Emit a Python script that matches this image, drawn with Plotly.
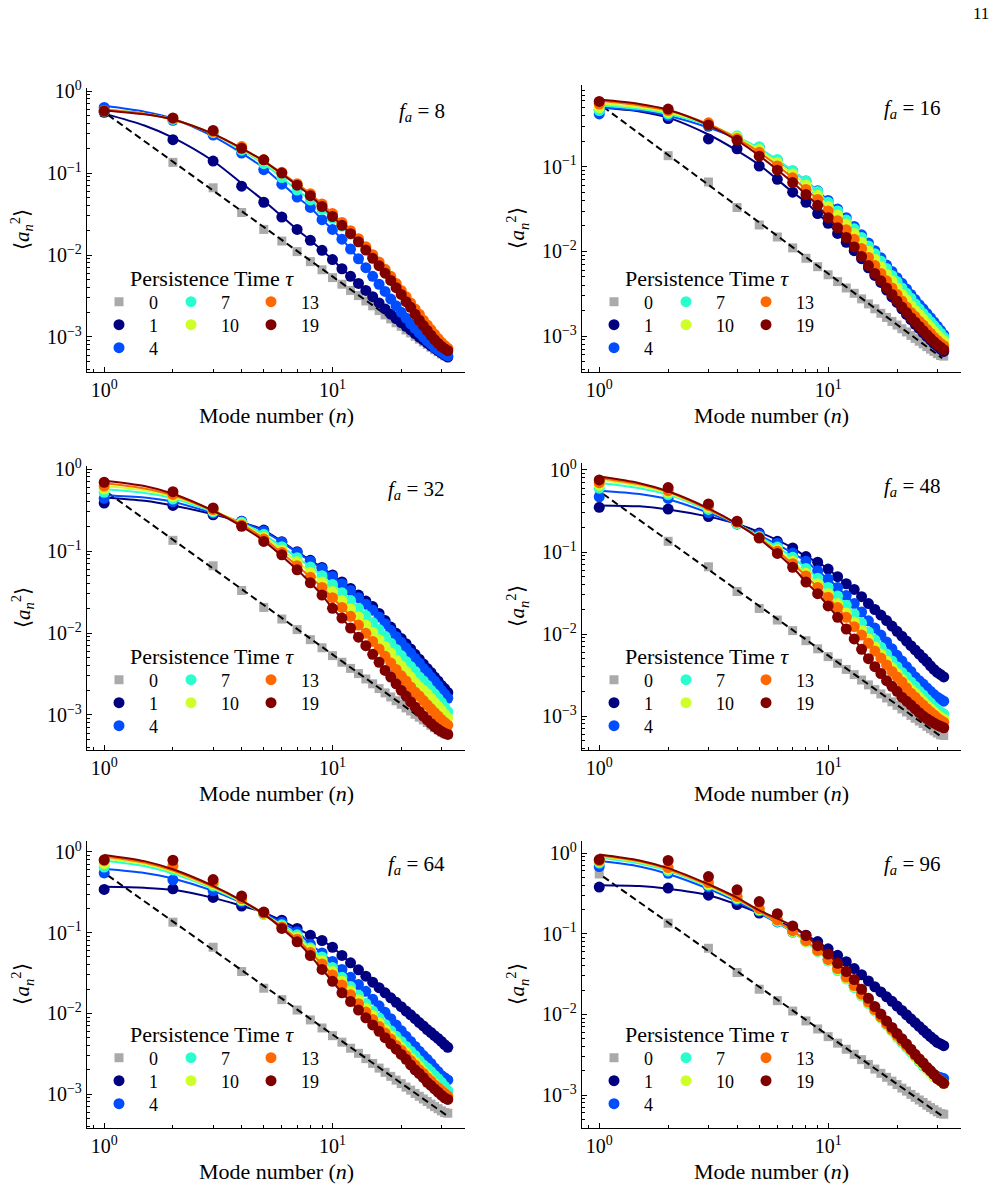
import plotly.graph_objects as go

# ---------------- data ----------------
N = [1, 2, 3, 4, 5, 6, 7, 8, 9, 10, 11, 12, 13, 14, 15, 16,
     17, 18, 19, 20, 21, 22, 23, 24, 25, 26, 27, 28, 29, 30, 31, 32]

TAUS = [0, 1, 4, 7, 10, 13, 19]
FA_VALUES = [8, 16, 32, 48, 64, 96]

# tau = 0 (passive) spectrum, shared by all panels
TAU0 = [0.55, 0.135, 0.066, 0.033, 0.0205, 0.0148, 0.011, 0.0083, 0.0066, 0.0053, 0.0044, 0.0037,
        0.0032, 0.00275, 0.0024, 0.0021, 0.00186, 0.00166, 0.00149, 0.00135, 0.00122, 0.00112,
        0.00102, 0.00094, 0.00087, 0.00081, 0.00075, 0.0007, 0.00066, 0.00062, 0.00059, 0.00058]

# reference n^-2 line (endpoints)
DASH_N = [1.04, 31.5]
DASH_V = [0.51, 0.00055]

# f_a = 8
F8_T1 = [0.55, 0.255, 0.14, 0.069, 0.044, 0.029, 0.0205, 0.0151, 0.0114, 0.0088, 0.0068, 0.0055, 0.0045, 0.0037, 0.0031, 0.0026,
         0.0022, 0.0019, 0.00168, 0.0015, 0.00135, 0.00122, 0.0011, 0.001, 0.00092, 0.00085, 0.00078, 0.00073, 0.00068, 0.00064, 0.0006, 0.00057]
F8_T4 = [0.63, 0.44, 0.29, 0.175, 0.11, 0.073, 0.051, 0.038, 0.027, 0.0205, 0.0156, 0.0118, 0.009, 0.007, 0.0055, 0.0044,
         0.0036, 0.0029, 0.0024, 0.002, 0.0017, 0.00145, 0.00127, 0.00112, 0.001, 0.0009, 0.00082, 0.00075, 0.0007, 0.00066, 0.00062, 0.00059]
F8_T7 = [0.57, 0.45, 0.31, 0.19, 0.13, 0.088, 0.062, 0.047, 0.036, 0.028, 0.0225, 0.018, 0.0145, 0.0117, 0.0094, 0.0077,
         0.0063, 0.0052, 0.0043, 0.0035, 0.0029, 0.0025, 0.0021, 0.0018, 0.00154, 0.00133, 0.00117, 0.00104, 0.00093, 0.00084, 0.00077, 0.00071]
F8_T10 = [0.57, 0.46, 0.32, 0.205, 0.143, 0.1, 0.072, 0.054, 0.041, 0.031, 0.0245, 0.0193, 0.0154, 0.0123, 0.0098, 0.008,
          0.0065, 0.0053, 0.0044, 0.0036, 0.003, 0.0025, 0.0021, 0.0018, 0.00155, 0.00135, 0.00119, 0.00105, 0.00094, 0.00085, 0.00078, 0.00072]
F8_T13 = [0.58, 0.46, 0.32, 0.21, 0.145, 0.102, 0.074, 0.056, 0.042, 0.032, 0.025, 0.0198, 0.0158, 0.0126, 0.0101, 0.0082,
          0.0067, 0.0055, 0.0045, 0.0037, 0.0031, 0.0026, 0.0022, 0.0019, 0.0016, 0.0014, 0.00123, 0.00108, 0.00096, 0.00086, 0.00079, 0.00073]
F8_T19 = [0.57, 0.47, 0.33, 0.2, 0.145, 0.1, 0.071, 0.053, 0.039, 0.0295, 0.023, 0.0182, 0.0145, 0.0115, 0.0091, 0.0074,
          0.006, 0.0049, 0.004, 0.0033, 0.0027, 0.0023, 0.0019, 0.0016, 0.00138, 0.0012, 0.00105, 0.00093, 0.00084, 0.00077, 0.00072, 0.00068]

# f_a = 16
F16_T1 = [0.47, 0.37, 0.213, 0.163, 0.102, 0.071, 0.05, 0.038, 0.028, 0.0215, 0.0163, 0.0128, 0.0102, 0.0082, 0.0064, 0.0052,
          0.0043, 0.0035, 0.0029, 0.0025, 0.0021, 0.0018, 0.00157, 0.00138, 0.00123, 0.0011, 0.00099, 0.0009, 0.00082, 0.00076, 0.0007, 0.00066]
F16_T4 = [0.42, 0.4, 0.3, 0.225, 0.17, 0.119, 0.089, 0.068, 0.052, 0.04, 0.0316, 0.025, 0.0197, 0.0157, 0.0126, 0.0102,
          0.0084, 0.0069, 0.0058, 0.0049, 0.0042, 0.0036, 0.0031, 0.0027, 0.00235, 0.0021, 0.00185, 0.00165, 0.00147, 0.00131, 0.00117, 0.00104]
F16_T7 = [0.46, 0.42, 0.31, 0.232, 0.172, 0.122, 0.09, 0.068, 0.051, 0.038, 0.03, 0.0235, 0.0185, 0.0146, 0.0116, 0.0094,
          0.0077, 0.0063, 0.0052, 0.0044, 0.0037, 0.0032, 0.0028, 0.0024, 0.0021, 0.00185, 0.00165, 0.00148, 0.00133, 0.0012, 0.00108, 0.00097]
F16_T10 = [0.5, 0.44, 0.32, 0.225, 0.16, 0.112, 0.082, 0.061, 0.046, 0.034, 0.027, 0.021, 0.0163, 0.0128, 0.0101, 0.0081,
           0.0066, 0.0054, 0.0045, 0.0037, 0.0031, 0.0027, 0.0023, 0.002, 0.0018, 0.0016, 0.00142, 0.00127, 0.00114, 0.00103, 0.00094, 0.00088]
F16_T13 = [0.55, 0.46, 0.33, 0.215, 0.148, 0.102, 0.074, 0.054, 0.041, 0.03, 0.023, 0.018, 0.0139, 0.0108, 0.0085, 0.0068,
           0.0055, 0.0045, 0.0037, 0.0031, 0.0026, 0.0022, 0.0019, 0.0017, 0.0015, 0.00135, 0.0012, 0.00108, 0.00097, 0.00089, 0.00082, 0.00077]
F16_T19 = [0.59, 0.48, 0.31, 0.205, 0.133, 0.091, 0.065, 0.047, 0.035, 0.025, 0.019, 0.0146, 0.0113, 0.0087, 0.0068, 0.0055,
           0.0045, 0.0037, 0.0031, 0.0026, 0.0022, 0.0019, 0.00165, 0.00146, 0.0013, 0.00116, 0.00104, 0.00094, 0.00086, 0.00079, 0.00074, 0.00069]

# f_a = 32
F32_T1 = [0.385, 0.36, 0.277, 0.23, 0.18, 0.13, 0.098, 0.077, 0.063, 0.051, 0.042, 0.035, 0.029, 0.0245, 0.021, 0.0173,
          0.0142, 0.0118, 0.0099, 0.0086, 0.0074, 0.0064, 0.0055, 0.0048, 0.0042, 0.0037, 0.0033, 0.0029, 0.0026, 0.0023, 0.0021, 0.00188]
F32_T4 = [0.44, 0.4, 0.29, 0.23, 0.175, 0.128, 0.096, 0.075, 0.061, 0.049, 0.04, 0.033, 0.027, 0.0225, 0.019, 0.0157,
          0.013, 0.0108, 0.009, 0.0077, 0.0066, 0.0057, 0.0049, 0.0043, 0.0037, 0.0033, 0.0029, 0.0026, 0.0023, 0.002, 0.0018, 0.0016]
F32_T7 = [0.52, 0.43, 0.3, 0.225, 0.16, 0.113, 0.083, 0.064, 0.05, 0.039, 0.031, 0.025, 0.02, 0.0163, 0.0134, 0.011,
          0.0091, 0.0075, 0.0063, 0.0053, 0.0045, 0.0039, 0.0034, 0.0029, 0.0026, 0.0023, 0.002, 0.0018, 0.0016, 0.00142, 0.00125, 0.0011]
F32_T10 = [0.57, 0.46, 0.31, 0.215, 0.148, 0.103, 0.074, 0.055, 0.042, 0.032, 0.025, 0.0198, 0.0157, 0.0126, 0.0102, 0.0083,
           0.0068, 0.0057, 0.0047, 0.004, 0.0034, 0.0029, 0.0025, 0.0022, 0.002, 0.0018, 0.0016, 0.00142, 0.00127, 0.00114, 0.00102, 0.00092]
F32_T13 = [0.62, 0.49, 0.32, 0.207, 0.14, 0.096, 0.066, 0.048, 0.036, 0.027, 0.0205, 0.016, 0.0125, 0.0099, 0.0079, 0.0064,
           0.0052, 0.0043, 0.0036, 0.003, 0.0026, 0.0022, 0.0019, 0.0017, 0.0015, 0.00133, 0.00119, 0.00107, 0.00097, 0.00088, 0.00081, 0.00075]
F32_T19 = [0.69, 0.53, 0.335, 0.2, 0.131, 0.09, 0.059, 0.041, 0.029, 0.02, 0.0152, 0.0115, 0.0089, 0.007, 0.0055, 0.0044,
           0.0035, 0.0029, 0.0024, 0.002, 0.0017, 0.00145, 0.00125, 0.0011, 0.00097, 0.00087, 0.00079, 0.00072, 0.00067, 0.00063, 0.0006, 0.00058]

# f_a = 48
F48_T1 = [0.35, 0.334, 0.27, 0.22, 0.17, 0.135, 0.112, 0.088, 0.075, 0.062, 0.05, 0.041, 0.035, 0.0285, 0.0235, 0.0199,
          0.017, 0.0146, 0.0125, 0.0108, 0.0094, 0.0082, 0.0072, 0.0064, 0.0057, 0.0051, 0.0046, 0.0041, 0.0037, 0.0034, 0.0032, 0.003]
F48_T4 = [0.47, 0.45, 0.3, 0.22, 0.165, 0.128, 0.097, 0.077, 0.059, 0.047, 0.037, 0.0294, 0.0235, 0.0185, 0.0145, 0.0118,
          0.0097, 0.008, 0.0066, 0.0055, 0.0047, 0.004, 0.0035, 0.003, 0.0027, 0.00245, 0.0022, 0.002, 0.00183, 0.0017, 0.0016, 0.00152]
F48_T7 = [0.6, 0.5, 0.33, 0.22, 0.155, 0.115, 0.086, 0.063, 0.048, 0.037, 0.029, 0.0225, 0.0175, 0.0136, 0.0106, 0.0085,
          0.0069, 0.0057, 0.0047, 0.004, 0.0034, 0.003, 0.0026, 0.0023, 0.002, 0.0018, 0.0016, 0.00145, 0.0013, 0.0012, 0.00112, 0.00106]
F48_T10 = [0.65, 0.53, 0.35, 0.225, 0.15, 0.107, 0.077, 0.055, 0.041, 0.031, 0.0235, 0.018, 0.014, 0.011, 0.0087, 0.007,
           0.0057, 0.0047, 0.0039, 0.0033, 0.0028, 0.0024, 0.0021, 0.0019, 0.0017, 0.0015, 0.00135, 0.00123, 0.00113, 0.00104, 0.00097, 0.00092]
F48_T13 = [0.7, 0.56, 0.37, 0.23, 0.15, 0.102, 0.072, 0.051, 0.037, 0.028, 0.021, 0.016, 0.0123, 0.0097, 0.0077, 0.0062,
           0.0051, 0.0042, 0.0035, 0.003, 0.0026, 0.0022, 0.0019, 0.0017, 0.0015, 0.00136, 0.00123, 0.00112, 0.00103, 0.00095, 0.00089, 0.00084]
F48_T19 = [0.755, 0.61, 0.385, 0.237, 0.148, 0.096, 0.065, 0.043, 0.031, 0.022, 0.016, 0.0115, 0.0087, 0.0065, 0.005, 0.004,
           0.0033, 0.0027, 0.0023, 0.002, 0.0017, 0.00152, 0.00136, 0.00122, 0.0011, 0.001, 0.00093, 0.00087, 0.00082, 0.00078, 0.00075, 0.00072]

# f_a = 64
F64_T1 = [0.343, 0.35, 0.273, 0.214, 0.178, 0.143, 0.113, 0.093, 0.08, 0.066, 0.0523, 0.0423, 0.0347, 0.0289, 0.0244, 0.0208,
          0.018, 0.0156, 0.0137, 0.0121, 0.0107, 0.0096, 0.0086, 0.0077, 0.007, 0.0063, 0.0058, 0.0053, 0.0049, 0.0045, 0.0041, 0.0038]
F64_T4 = [0.55, 0.45, 0.33, 0.24, 0.17, 0.135, 0.103, 0.072, 0.056, 0.044, 0.035, 0.028, 0.0228, 0.0188, 0.015, 0.0124,
          0.0103, 0.0086, 0.0072, 0.0061, 0.0052, 0.0045, 0.0039, 0.0034, 0.003, 0.0027, 0.0024, 0.0021, 0.0019, 0.0017, 0.0016, 0.0015]
F64_T7 = [0.65, 0.6, 0.38, 0.25, 0.17, 0.125, 0.094, 0.065, 0.05, 0.037, 0.028, 0.0215, 0.0168, 0.0133, 0.0107, 0.0088,
          0.0073, 0.0061, 0.0052, 0.0045, 0.0039, 0.0034, 0.003, 0.0026, 0.0023, 0.0021, 0.0019, 0.0017, 0.00155, 0.0014, 0.00125, 0.0011]
F64_T10 = [0.72, 0.65, 0.4, 0.255, 0.17, 0.12, 0.088, 0.062, 0.045, 0.033, 0.025, 0.019, 0.0148, 0.0117, 0.0094, 0.0077,
           0.0063, 0.0053, 0.0045, 0.0038, 0.0033, 0.0028, 0.0025, 0.0022, 0.0019, 0.0017, 0.0015, 0.00135, 0.0012, 0.0011, 0.001, 0.00092]
F64_T13 = [0.78, 0.68, 0.42, 0.265, 0.175, 0.118, 0.083, 0.057, 0.041, 0.03, 0.0225, 0.017, 0.0132, 0.0104, 0.0084, 0.0069,
           0.0057, 0.0048, 0.004, 0.0035, 0.003, 0.0026, 0.0023, 0.002, 0.0018, 0.0016, 0.00145, 0.0013, 0.0012, 0.0011, 0.00102, 0.00095]
F64_T19 = [0.8, 0.79, 0.455, 0.284, 0.18, 0.113, 0.077, 0.052, 0.035, 0.025, 0.018, 0.014, 0.011, 0.0088, 0.0072, 0.006,
           0.005, 0.0042, 0.0036, 0.0031, 0.0027, 0.0023, 0.002, 0.0018, 0.0016, 0.0014, 0.00128, 0.00116, 0.00106, 0.00097, 0.0009, 0.00086]

# f_a = 96
F96_T1 = [0.378, 0.368, 0.3, 0.23, 0.18, 0.145, 0.118, 0.096, 0.08, 0.065, 0.054, 0.045, 0.037, 0.031, 0.026, 0.022,
          0.019, 0.0165, 0.0145, 0.0127, 0.0112, 0.0099, 0.0088, 0.0079, 0.0071, 0.0064, 0.0058, 0.0053, 0.0049, 0.0045, 0.0043, 0.0041]
F96_T4 = [0.68, 0.56, 0.38, 0.26, 0.19, 0.14, 0.105, 0.08, 0.062, 0.048, 0.037, 0.029, 0.023, 0.0182, 0.0145, 0.0117,
          0.0095, 0.0078, 0.0065, 0.0055, 0.0047, 0.004, 0.0035, 0.0031, 0.0027, 0.0024, 0.0022, 0.002, 0.0018, 0.0017, 0.00165, 0.0016]
F96_T7 = [0.75, 0.6, 0.4, 0.27, 0.195, 0.142, 0.105, 0.079, 0.06, 0.046, 0.035, 0.0275, 0.0215, 0.017, 0.0136, 0.011,
          0.009, 0.0074, 0.0062, 0.0052, 0.0045, 0.0039, 0.0034, 0.003, 0.0026, 0.0023, 0.0021, 0.0019, 0.0017, 0.0016, 0.0015, 0.0014]
F96_T10 = [0.78, 0.63, 0.41, 0.28, 0.2, 0.145, 0.107, 0.08, 0.061, 0.047, 0.036, 0.028, 0.022, 0.0173, 0.0138, 0.0112,
           0.0091, 0.0075, 0.0063, 0.0053, 0.0046, 0.004, 0.0035, 0.003, 0.0027, 0.0024, 0.0021, 0.0019, 0.0017, 0.0016, 0.0015, 0.0014]
F96_T13 = [0.8, 0.66, 0.43, 0.29, 0.205, 0.148, 0.109, 0.082, 0.062, 0.048, 0.037, 0.029, 0.0228, 0.0178, 0.0142, 0.0115,
           0.0093, 0.0077, 0.0065, 0.0055, 0.0047, 0.0041, 0.0036, 0.0031, 0.0028, 0.0025, 0.0022, 0.002, 0.0018, 0.0016, 0.0015, 0.0014]
F96_T19 = [0.83, 0.81, 0.51, 0.35, 0.25, 0.177, 0.125, 0.095, 0.071, 0.056, 0.043, 0.034, 0.027, 0.0205, 0.0158, 0.0125,
           0.0101, 0.0083, 0.0069, 0.0058, 0.005, 0.0043, 0.0037, 0.0032, 0.0028, 0.0025, 0.0022, 0.002, 0.0018, 0.0016, 0.0015, 0.0014]

# fitted curves at small n, n = FIT_N; beyond that the
# solid lines follow the measured points
FIT_N = [1, 1.5, 2, 3, 4, 5]
FIT8 = [[0.53, 0.38, 0.27, 0.14, 0.075, 0.046],
        [0.66, 0.56, 0.46, 0.28, 0.175, 0.115],
        [0.60, 0.53, 0.45, 0.30, 0.19, 0.13],
        [0.59, 0.53, 0.45, 0.30, 0.195, 0.135],
        [0.59, 0.53, 0.45, 0.30, 0.20, 0.14],
        [0.58, 0.52, 0.45, 0.30, 0.20, 0.14]]
FIT16 = [[0.50, 0.45, 0.38, 0.24, 0.155, 0.105],
         [0.50, 0.46, 0.40, 0.29, 0.215, 0.16],
         [0.53, 0.48, 0.42, 0.31, 0.225, 0.165],
         [0.56, 0.50, 0.44, 0.315, 0.22, 0.158],
         [0.60, 0.53, 0.46, 0.32, 0.215, 0.148],
         [0.62, 0.55, 0.47, 0.31, 0.205, 0.135]]
FIT32 = [[0.45, 0.41, 0.36, 0.28, 0.225, 0.18],
         [0.48, 0.45, 0.40, 0.29, 0.225, 0.175],
         [0.57, 0.51, 0.44, 0.30, 0.22, 0.16],
         [0.62, 0.55, 0.46, 0.31, 0.215, 0.15],
         [0.67, 0.58, 0.48, 0.31, 0.21, 0.142],
         [0.72, 0.62, 0.50, 0.31, 0.20, 0.133]]
FIT48 = [[0.37, 0.36, 0.33, 0.27, 0.22, 0.175],
         [0.56, 0.51, 0.44, 0.30, 0.215, 0.16],
         [0.70, 0.60, 0.50, 0.32, 0.22, 0.155],
         [0.76, 0.64, 0.52, 0.33, 0.22, 0.15],
         [0.80, 0.67, 0.54, 0.33, 0.22, 0.148],
         [0.83, 0.69, 0.55, 0.34, 0.22, 0.145]]
FIT64 = [[0.37, 0.36, 0.34, 0.27, 0.215, 0.178],
         [0.62, 0.55, 0.47, 0.33, 0.235, 0.175],
         [0.78, 0.67, 0.54, 0.35, 0.24, 0.17],
         [0.83, 0.71, 0.57, 0.36, 0.245, 0.17],
         [0.88, 0.74, 0.59, 0.37, 0.25, 0.17],
         [0.92, 0.77, 0.61, 0.38, 0.25, 0.17]]
FIT96 = [[0.40, 0.39, 0.36, 0.30, 0.23, 0.18],
         [0.80, 0.68, 0.55, 0.36, 0.25, 0.18],
         [0.88, 0.74, 0.60, 0.38, 0.26, 0.185],
         [0.91, 0.77, 0.62, 0.39, 0.265, 0.19],
         [0.94, 0.79, 0.63, 0.40, 0.27, 0.19],
         [0.96, 0.81, 0.65, 0.41, 0.28, 0.195]]

SERIES = [
    [F8_T1, F8_T4, F8_T7, F8_T10, F8_T13, F8_T19],
    [F16_T1, F16_T4, F16_T7, F16_T10, F16_T13, F16_T19],
    [F32_T1, F32_T4, F32_T7, F32_T10, F32_T13, F32_T19],
    [F48_T1, F48_T4, F48_T7, F48_T10, F48_T13, F48_T19],
    [F64_T1, F64_T4, F64_T7, F64_T10, F64_T13, F64_T19],
    [F96_T1, F96_T4, F96_T7, F96_T10, F96_T13, F96_T19],
]
FITS = [FIT8, FIT16, FIT32, FIT48, FIT64, FIT96]

X_TICKS = [1, 10]
X_TICKTEXT = ["10<sup>0</sup>", "10<sup>1</sup>"]
Y_TICKS = [1, 0.1, 0.01, 0.001]
Y_TICKTEXT = ["10<sup>0</sup>", "10<sup>−1</sup>", "10<sup>−2</sup>", "10<sup>−3</sup>"]

# ---------------- style / layout ----------------
W, H = 997, 1190
FONT = "Liberation Serif"
COLORS = {0: "#aaaaaa", 1: "#000080", 4: "#004dff", 7: "#29ffce",
          10: "#ceff29", 13: "#ff6800", 19: "#800000"}

P_LEFT = [87, 582, 87, 582, 87, 582]
P_RIGHT = [465, 961, 465, 961, 465, 961]
P_TOP = [88, 85, 466, 463, 841, 841]
P_BOTTOM = [372, 372, 750, 750, 1128, 1128]
Y_RANGE = [[-3.427, 0.037], [-3.424, -0.035], [-3.427, 0.037],
           [-3.414, 0.085], [-3.42, 0.136], [-3.408, 0.149]]
X_RANGE = [-0.0753, 1.5805]

# legend grid (offsets from panel left / bottom, px)
LEG_COL_DX = [32, 104, 184]
LEG_ROW_DY = [70, 47, 24]
LEG_POS = {0: (0, 0), 1: (0, 1), 4: (0, 2), 7: (1, 0), 10: (1, 1), 13: (2, 0), 19: (2, 1)}

X_MINOR = [0.9, 2, 3, 4, 5, 6, 7, 8, 9, 20, 30]
Y_MINOR = [k * 10.0 ** e for e in range(-4, 1) for k in range(2, 10)]


def fx(px):
    return px / W


def fy(py):
    return 1 - py / H


fig = go.Figure()
layout = dict(width=W, height=H, margin=dict(l=0, r=0, t=0, b=0),
              paper_bgcolor="white", plot_bgcolor="white", template="none",
              showlegend=True, font=dict(family=FONT, color="black"))
annotations = []
leg_count = 0

for i in range(6):
    k = i + 1
    xs = "x" if k == 1 else f"x{k}"
    ys = "y" if k == 1 else f"y{k}"
    xa = "xaxis" if k == 1 else f"xaxis{k}"
    ya = "yaxis" if k == 1 else f"yaxis{k}"
    L, R, T, B = P_LEFT[i], P_RIGHT[i], P_TOP[i], P_BOTTOM[i]

    layout[xa] = dict(type="log", range=X_RANGE, domain=[fx(L), fx(R)], anchor=ys,
                      showline=True, linecolor="black", linewidth=1.4, mirror=False,
                      ticks="inside", ticklen=5, tickwidth=1, tickcolor="black",
                      tickmode="array", tickvals=X_TICKS, ticktext=X_TICKTEXT,
                      tickfont=dict(family=FONT, size=20, color="black"),
                      minor=dict(ticks="inside", ticklen=3, tickwidth=0.8, tickcolor="black",
                                 tickmode="array", tickvals=X_MINOR, showgrid=False),
                      showgrid=False, zeroline=False)
    layout[ya] = dict(type="log", range=Y_RANGE[i], domain=[fy(B), fy(T)], anchor=xs,
                      showline=True, linecolor="black", linewidth=1.4, mirror=False,
                      ticks="inside", ticklen=5, tickwidth=1, tickcolor="black",
                      tickmode="array", tickvals=Y_TICKS, ticktext=Y_TICKTEXT,
                      tickfont=dict(family=FONT, size=20, color="black"),
                      minor=dict(ticks="inside", ticklen=3, tickwidth=0.8, tickcolor="black",
                                 tickmode="array", tickvals=Y_MINOR, showgrid=False),
                      showgrid=False, zeroline=False)

    def new_legend(tau):
        global leg_count
        leg_count += 1
        name = "legend" if leg_count == 1 else f"legend{leg_count}"
        c, r = LEG_POS[tau]
        layout[name] = dict(x=fx(L + LEG_COL_DX[c] - 30), y=fy(B - LEG_ROW_DY[r]),
                            xanchor="left", yanchor="middle", orientation="v",
                            bgcolor="rgba(0,0,0,0)", borderwidth=0, itemwidth=50,
                            font=dict(family=FONT, size=18, color="black"),
                            itemclick=False, itemdoubleclick=False)
        return name

    # tau = 0 squares
    fig.add_trace(go.Scatter(x=N, y=TAU0, mode="markers", xaxis=xs, yaxis=ys,
                             marker=dict(symbol="square", size=9, color=COLORS[0]),
                             name="0", legend=new_legend(0), showlegend=True))
    # dashed n^-2 guide
    fig.add_trace(go.Scatter(x=DASH_N, y=DASH_V, mode="lines", xaxis=xs, yaxis=ys,
                             line=dict(color="black", width=2, dash="7px,4px"),
                             showlegend=False, hoverinfo="skip"))
    for j, tau in enumerate(TAUS[1:]):
        vals = SERIES[i][j]
        fit = FITS[i][j]
        nskip = len(FIT_N)
        fig.add_trace(go.Scatter(x=FIT_N + N[nskip:], y=fit + vals[nskip:], mode="lines",
                                 xaxis=xs, yaxis=ys,
                                 line=dict(color=COLORS[tau], width=2, shape="spline", smoothing=0.8),
                                 showlegend=False, hoverinfo="skip"))
        fig.add_trace(go.Scatter(x=N, y=vals, mode="markers", xaxis=xs, yaxis=ys,
                                 marker=dict(symbol="circle", size=11, color=COLORS[tau]),
                                 name=str(tau), legend=new_legend(tau), showlegend=True))

    # legend title
    annotations.append(dict(x=fx(L + 124.5), y=fy(B - 94), xref="paper", yref="paper",
                            text="Persistence Time <i>τ</i>", showarrow=False,
                            xanchor="center", yanchor="middle",
                            font=dict(family=FONT, size=22, color="black")))
    # f_a label
    annotations.append(dict(x=fx(R - 18), y=fy(B - 0.915 * (B - T)), xref="paper", yref="paper",
                            text=f"<i>f</i><sub><i>a</i></sub> = {FA_VALUES[i]}", showarrow=False,
                            xanchor="right", yanchor="middle",
                            font=dict(family=FONT, size=21, color="black")))
    # axis titles
    annotations.append(dict(x=fx((L + R) / 2), y=fy(B + 43), xref="paper", yref="paper",
                            text="Mode number (<i>n</i>)", showarrow=False,
                            xanchor="center", yanchor="middle",
                            font=dict(family=FONT, size=22, color="black")))
    annotations.append(dict(x=fx(L - 65), y=fy((T + B) / 2), xref="paper", yref="paper",
                            text="⟨<i>a</i><sub><i>n</i></sub><sup>2</sup>⟩", showarrow=False,
                            textangle=-90, xanchor="center", yanchor="middle",
                            font=dict(family=FONT, size=21, color="black")))

annotations.append(dict(x=fx(991), y=fy(14), xref="paper", yref="paper", text="11",
                        showarrow=False, xanchor="right", yanchor="middle",
                        font=dict(family=FONT, size=17, color="black")))
layout["annotations"] = annotations
fig.update_layout(**layout)
fig.write_html("out.html")
